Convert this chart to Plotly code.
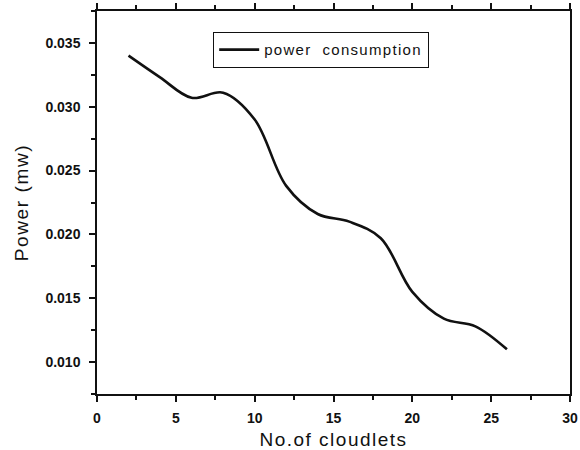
import plotly.graph_objects as go

# Data
cloudlets = [2, 4, 6, 8, 10, 12, 14, 16, 18, 20, 22, 24, 26]
power_mw = [0.0340, 0.0323, 0.0307, 0.0311, 0.0290, 0.0238, 0.0216,
            0.0210, 0.0197, 0.0155, 0.0134, 0.0128, 0.0110]
series_name = "power\u00a0\u00a0consumption"
x_title = "No.of cloudlets"
y_title = "Power (mw)"

FONT = "Arial, 'Liberation Sans', sans-serif"
INK = "#111111"

fig = go.Figure()
fig.add_trace(go.Scatter(
    x=cloudlets, y=power_mw, mode="lines",
    name='<span style="letter-spacing:1.3px">' + series_name + '</span>',
    line=dict(color=INK, width=2.6, shape="spline", smoothing=1.0),
))

axis_common = dict(
    showgrid=False, zeroline=False, showline=True, linecolor=INK, linewidth=1.5,
    ticks="outside", ticklen=6, tickwidth=1.5, tickcolor=INK, automargin=False,
    tickfont=dict(family=FONT, size=14, color=INK, weight="bold"),
)

fig.update_xaxes(
    **axis_common,
    range=[0, 30], dtick=5, tick0=0, mirror="ticks",
    minor=dict(dtick=2.5, ticks="outside", ticklen=4, tickwidth=1.5, tickcolor=INK, showgrid=False),
    title=dict(text='<span style="letter-spacing:1.5px">' + x_title + '</span>',
               font=dict(family=FONT, size=19, color=INK), standoff=8),
    ticklabelstandoff=4,
)
fig.update_yaxes(
    **axis_common,
    range=[0.0075, 0.0375], dtick=0.005, tick0=0.01, tickformat=".3f", mirror=True,
    minor=dict(dtick=0.0025, ticks="outside", ticklen=4, tickwidth=1.5, tickcolor=INK, showgrid=False),
    title=dict(text='<span style="letter-spacing:1.6px">' + y_title + '</span>',
               font=dict(family=FONT, size=19, color=INK), standoff=12),
    ticklabelstandoff=6,
)

fig.update_layout(
    width=580, height=450, autosize=False,
    margin=dict(l=97, r=10, t=11, b=56),
    paper_bgcolor="white", plot_bgcolor="white",
    showlegend=True,
    legend=dict(
        x=0.245, y=0.945, xanchor="left", yanchor="top",
        bgcolor="white", bordercolor=INK, borderwidth=1.3,
        font=dict(family=FONT, size=15, color=INK),
        tracegroupgap=0, itemwidth=40,
    ),
)

fig.write_html("out.html", config={"displayModeBar": False},
               post_script="document.body.style.margin='0px';")
